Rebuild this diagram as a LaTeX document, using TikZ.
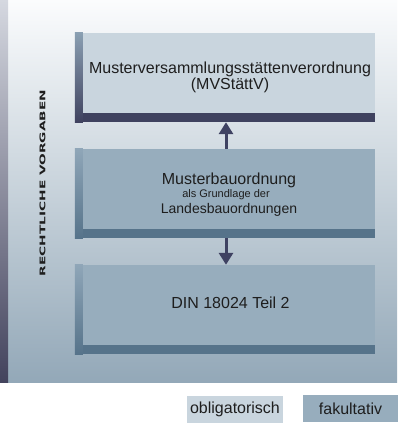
\documentclass[tikz,border=0pt]{standalone}
\usepackage{fontspec}
\usepackage{graphicx}
\setmainfont{Liberation Sans}
\newfontfamily\vfont{DejaVu Sans}
\usetikzlibrary{arrows.meta,calc}

\definecolor{paneltop}{HTML}{FBFCFD}
\definecolor{panelbot}{HTML}{93A8B8}
\definecolor{bartop}{HTML}{D5D8E0}
\definecolor{barbot}{HTML}{43435D}
\definecolor{faceA}{HTML}{C9D5DE}
\definecolor{shadA}{HTML}{3F425F}
\definecolor{shadAtop}{HTML}{8A9FB2}
\definecolor{faceB}{HTML}{97ADBD}
\definecolor{shadB}{HTML}{56738A}
\definecolor{shadBtop}{HTML}{8FA6B8}
\definecolor{arrowc}{HTML}{3F4262}
\definecolor{txtc}{HTML}{1E1E1E}

\tikzset{
  outerbox/.style={rectangle, draw=none, inner sep=0pt, minimum width=300pt, minimum height=89pt},
  facebox/.style={rectangle, draw=none, inner sep=0pt, minimum width=292pt, minimum height=80pt, anchor=north east},
  bigtxt/.style={font=\fontsize{16}{18}\selectfont, text=txtc, inner sep=0pt, anchor=base},
  midtxt/.style={font=\fontsize{14}{16}\selectfont, text=txtc, inner sep=0pt, anchor=base},
  smalltxt/.style={font=\fontsize{11}{13}\selectfont, text=txtc, inner sep=0pt, anchor=base},
  link/.style={draw=arrowc, line width=3pt, -{Triangle[width=14pt,length=12pt,fill=arrowc]}},
  legendbox/.style={rectangle, draw=none, inner sep=0pt, minimum height=27pt, font=\fontsize{16}{18}\selectfont, text=txtc},
}

\begin{document}
\begin{tikzpicture}[x=1pt,y=-1pt]
\useasboundingbox (0,0) rectangle (400,423);
\fill[white] (0,0) rectangle (400,423);

% background panel and left bar
\shade[top color=paneltop, bottom color=panelbot] (0,0) rectangle (397,382);
\shade[top color=bartop, bottom color=barbot] (0,0) rectangle (8,382);

% side label
\node[rotate=90, text=txtc, inner sep=0pt] (side) at (42.5,183)
  {\resizebox{186pt}{5.8pt}{\vfont\bfseries RECHTLICHE VORGABEN}};

% box 1
\node[outerbox, fill=shadA] (b1) at (225,77.5) {};
\shade[top color=shadAtop, bottom color=shadA] (b1.north west) rectangle ($(b1.south west)+(8,0)$);
\node[facebox, fill=faceA] (f1) at (b1.north east) {};
\node[bigtxt] (t1a) at (230,73) {Musterversammlungsstättenverordnung};
\node[bigtxt] (t1b) at (230,89) {(MVStättV)};

% box 2
\node[outerbox, fill=shadB] (b2) at (225,193.5) {};
\shade[top color=shadBtop, bottom color=shadB] (b2.north west) rectangle ($(b2.south west)+(8,0)$);
\node[facebox, fill=faceB] (f2) at (b2.north east) {};
\node[bigtxt] (t2a) at (229,184) {Musterbauordnung};
\node[smalltxt] (t2b) at (226,197) {als Grundlage der};
\node[midtxt] (t2c) at (229,213) {Landesbauordnungen};

% box 3
\node[outerbox, fill=shadB] (b3) at (225,309.5) {};
\shade[top color=shadBtop, bottom color=shadB] (b3.north west) rectangle ($(b3.south west)+(8,0)$);
\node[facebox, fill=faceB] (f3) at (b3.north east) {};
\node[bigtxt] (t3) at (230.5,308) {DIN 18024 Teil 2};

% arrows
\draw[link] ([xshift=1pt]b2.north) -- ([xshift=1pt]b1.south);
\draw[link] ([xshift=1pt]b2.south) -- ([xshift=1pt]b3.north);

% legend
\node[legendbox, fill=faceA, minimum width=96pt] (lo) at (235,409.5) {obligatorisch};
\node[legendbox, fill=faceB, minimum width=95pt] (lf) at (350.5,408.5) {fakultativ};
\end{tikzpicture}
\end{document}
